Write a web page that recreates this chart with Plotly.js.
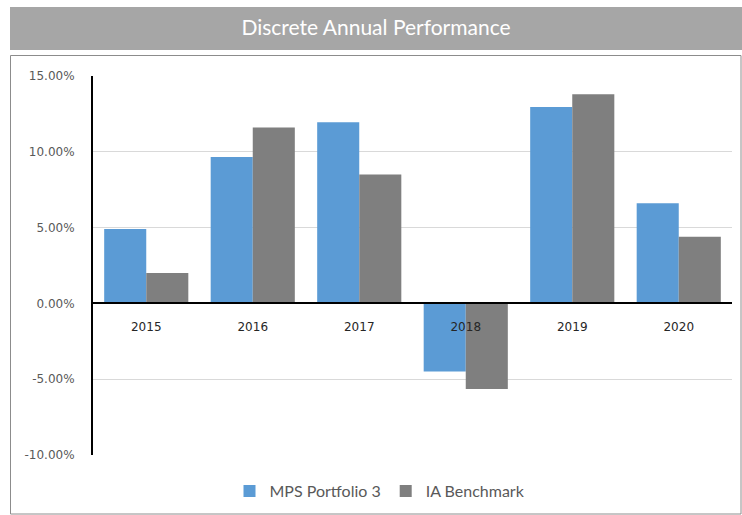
<!DOCTYPE html>
<html><head><meta charset="utf-8">
<script src="https://cdn.plot.ly/plotly-3.0.1.min.js"></script>
<style>html,body{margin:0;padding:0;background:#fff;}#chart{width:742px;height:515px;}</style>
</head><body><div id="chart"></div>
<script>
var years = ['2015','2016','2017','2018','2019','2020'];
var mpsPortfolio3 = [4.9, 9.65, 11.95, -4.5, 12.95, 6.6];
var iaBenchmark = [2.0, 11.6, 8.5, -5.65, 13.8, 4.4];
var yTicks = [-10, -5, 0, 5, 10, 15];
var yTickText = yTicks.map(function(v){return v.toFixed(2) + '%';});

var traces = [
  {type:'bar', name:'MPS Portfolio 3', x:years, y:mpsPortfolio3, marker:{color:'#5b9bd5'}, hoverinfo:'skip'},
  {type:'bar', name:'IA Benchmark', x:years, y:iaBenchmark, marker:{color:'#7f7f7f'}, hoverinfo:'skip'}
];

var L=93, R=732, T=76, B=455;
function px(x){return (x-L)/(R-L);}
function py(y){return (B-y)/(B-T);}

var layout = {
  width:742, height:515,
  margin:{l:L, r:742-R, t:T, b:515-B, pad:0, autoexpand:false},
  paper_bgcolor:'#ffffff', plot_bgcolor:'#ffffff',
  font:{family:'Lato, "Open Sans", sans-serif', color:'#595959'},
  barmode:'group', bargap:0.21, bargroupgap:0,
  title:{text:'Discrete Annual Performance', font:{family:'Lato, sans-serif', size:21, color:'#ffffff'},
         xref:'container', x:376/742, xanchor:'center', yref:'container', y:1-28/515, yanchor:'middle'},
  xaxis:{type:'category', anchor:'free', position:10/25, showline:true, linecolor:'#000000', linewidth:2,
         showgrid:false, ticks:'outside', ticklen:12, tickcolor:'rgba(0,0,0,0)', automargin:false,
         tickfont:{family:'"DejaVu Sans", sans-serif', size:12, color:'#262626'}, fixedrange:true},
  yaxis:{range:[-10,15], tickvals:yTicks, ticktext:yTickText,
         showline:true, linecolor:'#000000', linewidth:2, zeroline:false,
         showgrid:true, gridcolor:'#d9d9d9', gridwidth:1, automargin:false,
         ticks:'', ticklabelstandoff:14,
         tickfont:{family:'"DejaVu Sans", sans-serif', size:12, color:'#595959'}, fixedrange:true},
  legend:{orientation:'h', xref:'container', x:380/742, xanchor:'center', yref:'container', y:1-491/515, yanchor:'middle',
          font:{family:'Lato, sans-serif', size:16, color:'#595959'}, itemwidth:30, traceorder:'normal'},
  shapes:[
    {type:'rect', xref:'paper', yref:'paper', x0:px(10), x1:px(742), y0:py(50), y1:py(7),
     fillcolor:'#a6a6a6', line:{width:0}, layer:'below'},
    {type:'rect', xref:'paper', yref:'paper', x0:px(10.5), x1:px(741), y0:py(514), y1:py(55.5),
     fillcolor:'rgba(0,0,0,0)', line:{width:1, color:'#8c8c8c'}, layer:'below'}
  ],
  showlegend:true
};
Plotly.newPlot('chart', traces, layout, {displayModeBar:false, staticPlot:true});
</script></body></html>
